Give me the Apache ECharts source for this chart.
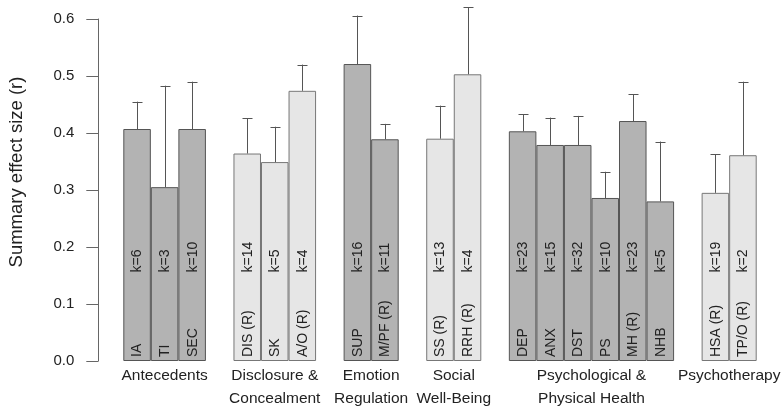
<!DOCTYPE html>
<html>
<head>
<meta charset="utf-8">
<script src="https://cdn.jsdelivr.net/npm/echarts@6/dist/echarts.min.js"></script>
<style>
html,body{margin:0;padding:0;background:#fff;}
#chart{width:781px;height:410px;}
</style>
</head>
<body>
<div id="chart"></div>
<script>
// ---- data ----
const groupNames = ['Antecedents', 'Disclosure &\nConcealment', 'Emotion\nRegulation', 'Social\nWell-Being', 'Psychological &\nPhysical Health', 'Psychotherapy'];
const barNames = ['IA', 'TI', 'SEC', 'DIS (R)', 'SK', 'A/O (R)', 'SUP', 'M/PF (R)', 'SS (R)', 'RRH (R)', 'DEP', 'ANX', 'DST', 'PS', 'MH (R)', 'NHB', 'HSA (R)', 'TP/O (R)'];
const barGroup = [0, 0, 0, 1, 1, 1, 2, 2, 3, 3, 4, 4, 4, 4, 4, 4, 5, 5];
const effectSize = [0.407, 0.305, 0.407, 0.364, 0.349, 0.474, 0.521, 0.389, 0.390, 0.503, 0.403, 0.379, 0.379, 0.286, 0.421, 0.280, 0.295, 0.361];
const upperCI = [0.455, 0.483, 0.490, 0.426, 0.411, 0.520, 0.606, 0.416, 0.448, 0.621, 0.433, 0.427, 0.430, 0.332, 0.468, 0.385, 0.363, 0.490];
const kStudies = [6, 3, 10, 14, 5, 4, 16, 11, 13, 4, 23, 15, 32, 10, 23, 5, 19, 2];
const barShade = ['dark', 'dark', 'dark', 'light', 'light', 'light', 'dark', 'dark', 'light', 'light', 'dark', 'dark', 'dark', 'dark', 'dark', 'dark', 'light', 'light'];
const yTickValues = [0.0, 0.1, 0.2, 0.3, 0.4, 0.5, 0.6];
const yTitle = 'Summary effect size (r)';

// ---- styles ----
const fillColor = { dark: '#b3b3b3', light: '#e6e6e6' };
const borderColor = { dark: '#555555', light: '#777777' };
const textColor = '#222222';
const kLabelAt = 0.15;

// ---- build slots (blank slot between groups) ----
const categories = [];
const barSlot = [];
barNames.forEach((n, i) => {
  if (i > 0 && barGroup[i] !== barGroup[i - 1]) categories.push('_gap' + i);
  barSlot.push(categories.length);
  categories.push(n);
});
const barData = categories.map(() => '-');
barNames.forEach((n, i) => {
  barData[barSlot[i]] = {
    value: effectSize[i],
    itemStyle: { color: fillColor[barShade[i]], borderColor: borderColor[barShade[i]] }
  };
});
const errData = barNames.map((n, i) => [barSlot[i], effectSize[i], upperCI[i], kStudies[i], i]);
const groupData = groupNames.map((g, gi) => {
  const idx = barGroup.map((v, i) => v === gi ? barSlot[i] : null).filter(v => v !== null);
  return [Math.min(...idx), Math.max(...idx), 0, gi];
});

const chart = echarts.init(document.getElementById('chart'), null, { renderer: 'canvas' });
chart.setOption({
  backgroundColor: '#ffffff',
  animation: false,
  grid: { left: 123.3, right: 24.3, top: 19, bottom: 49 },
  xAxis: {
    type: 'category',
    data: categories,
    axisLine: { show: false },
    axisTick: { show: false },
    axisLabel: { show: false },
    splitLine: { show: false }
  },
  yAxis: {
    type: 'value',
    min: yTickValues[0],
    max: yTickValues[yTickValues.length - 1],
    interval: 0.1,
    offset: 25,
    axisLine: { show: true, lineStyle: { color: '#666666', width: 1 } },
    axisTick: { show: true, length: 12, lineStyle: { color: '#666666', width: 1 } },
    axisLabel: {
      margin: 24,
      fontSize: 15,
      fontFamily: 'Liberation Sans',
      color: textColor,
      formatter: v => v.toFixed(1)
    },
    splitLine: { show: false }
  },
  graphic: [{
    type: 'text',
    x: 17,
    y: 172,
    rotation: Math.PI / 2,
    style: {
      text: yTitle,
      fontSize: 18.5,
      fontFamily: 'Liberation Sans',
      fill: textColor,
      align: 'center',
      verticalAlign: 'middle'
    }
  }],
  series: [
    {
      type: 'bar',
      z: 2,
      data: barData,
      barCategoryGap: '0%',
      itemStyle: { borderWidth: 1 },
      silent: true
    },
    {
      type: 'custom',
      z: 5,
      clip: false,
      silent: true,
      data: errData,
      encode: { x: 0, y: [1, 2] },
      renderItem: function (params, api) {
        const slot = api.value(0);
        const i = api.value(4);
        const top = api.coord([slot, api.value(1)]);
        const up = api.coord([slot, api.value(2)]);
        const base = api.coord([slot, 0]);
        const kPos = api.coord([slot, kLabelAt]);
        const cx = Math.round(top[0]) + 0.5;
        const capHalf = 5;
        const lineStyle = { stroke: '#555555', lineWidth: 1 };
        return {
          type: 'group',
          children: [
            { type: 'line', z2: 10, shape: { x1: cx, y1: top[1], x2: cx, y2: up[1] }, style: lineStyle },
            { type: 'line', z2: 10, shape: { x1: cx - capHalf, y1: Math.round(up[1]) + 0.5, x2: cx + capHalf, y2: Math.round(up[1]) + 0.5 }, style: lineStyle },
            {
              type: 'text', z2: 20, x: base[0] + 0.5, y: base[1] - 4, rotation: Math.PI / 2,
              style: { text: barNames[i], fontSize: 14, fontFamily: 'Liberation Sans', fill: textColor, align: 'left', verticalAlign: 'middle' }
            },
            {
              type: 'text', z2: 20, x: kPos[0] + 0.5, y: kPos[1] - 3, rotation: Math.PI / 2,
              style: { text: 'k=' + api.value(3), fontSize: 14, fontFamily: 'Liberation Sans', fill: textColor, align: 'left', verticalAlign: 'middle' }
            }
          ]
        };
      }
    },
    {
      type: 'custom',
      z: 5,
      clip: false,
      silent: true,
      data: groupData,
      encode: { x: [0, 1], y: 2 },
      renderItem: function (params, api) {
        const a = api.coord([api.value(0), 0]);
        const b = api.coord([api.value(1), 0]);
        return {
          type: 'text',
          x: (a[0] + b[0]) / 2,
          y: a[1] + 3.5,
          style: {
            text: groupNames[api.value(3)],
            fontSize: 15.5,
            lineHeight: 23,
            fontFamily: 'Liberation Sans',
            fill: textColor,
            align: 'center',
            verticalAlign: 'top'
          }
        };
      }
    }
  ]
});
</script>
</body>
</html>
